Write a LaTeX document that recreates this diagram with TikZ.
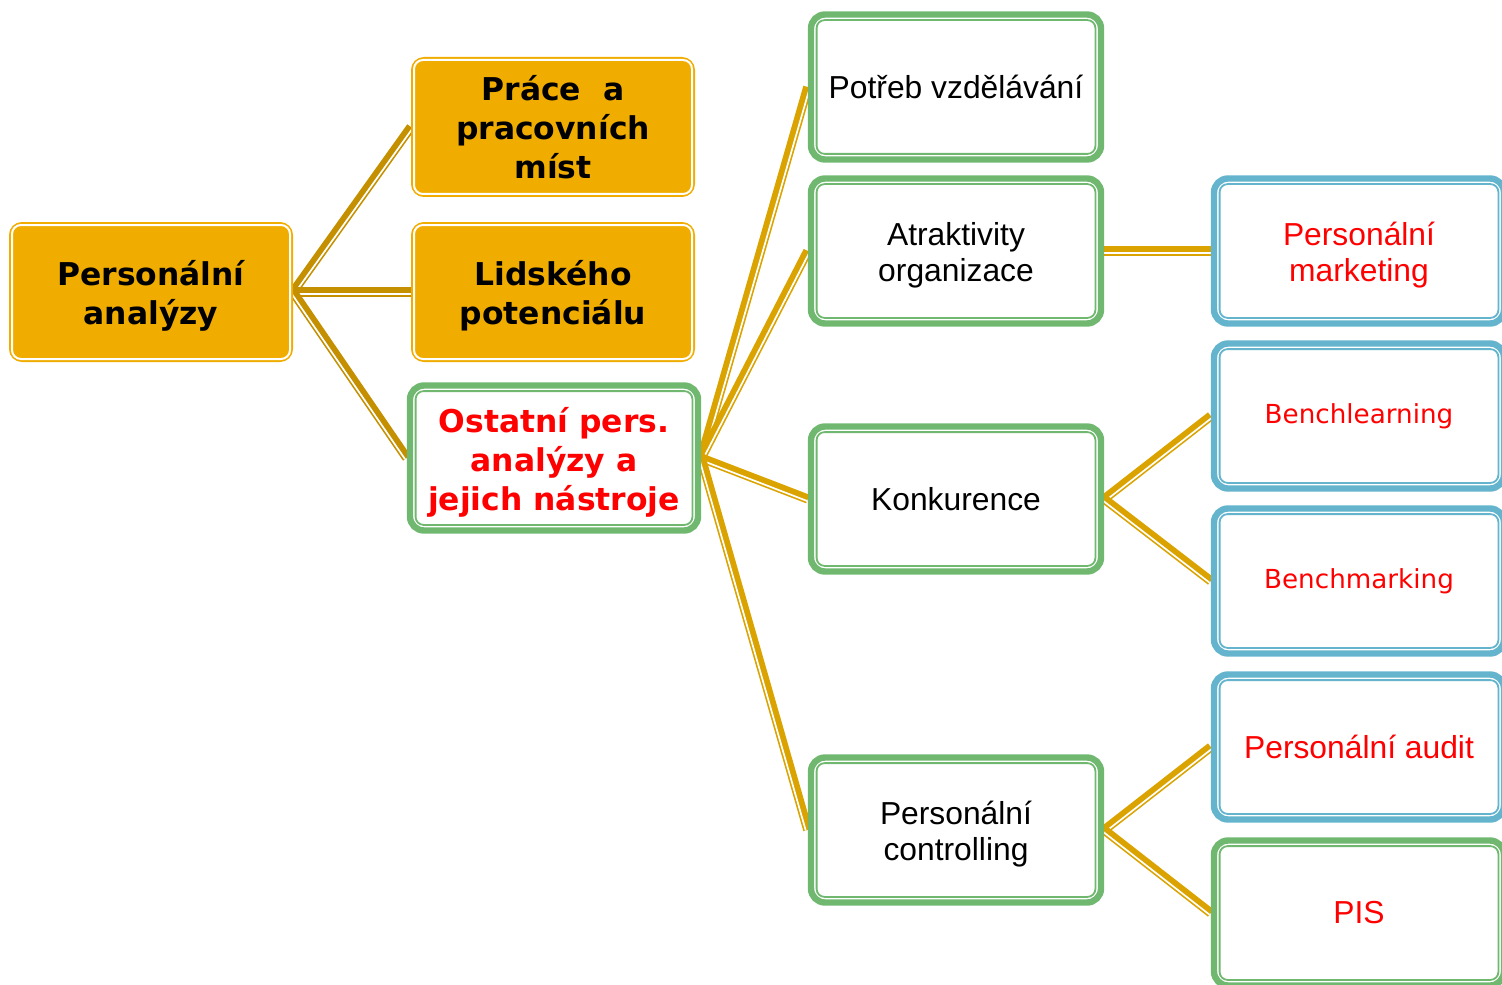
\documentclass[tikz,border=0pt]{standalone}
\usepackage{fontspec}
\setmainfont{Liberation Sans}
\newfontfamily\verd{DejaVu Sans}
\usetikzlibrary{calc,backgrounds}

\definecolor{boxorange}{RGB}{240,173,0}
\definecolor{boxgreen}{RGB}{112,184,112}
\definecolor{boxblue}{RGB}{99,180,204}
\definecolor{linkdark}{RGB}{196,144,0}
\definecolor{linkgold}{RGB}{218,163,0}
\definecolor{txtred}{RGB}{255,0,0}

% thick-thin connector: from #1 to #2 in colour #3
\newcommand\linkab[3]{
\draw[#3, line width=4.6pt] (#1) -- (#2);
\draw[white, line width=0.85pt] ($(#1)!1.05pt!-90:(#2)$) -- ($(#2)!1.05pt!90:(#1)$);
}

\begin{document}
\begin{tikzpicture}[x=0.5pt,y=-0.5pt,
  orangebox/.style={draw=boxorange, fill=boxorange, line width=1pt, rounded corners=6pt,
    minimum width=141pt, minimum height=69pt, align=center, inner sep=0pt,
    font=\verd\bfseries\fontsize{15.7}{19.5}\selectfont},
  greenbox/.style={draw=boxgreen, fill=white, line width=3.2pt, rounded corners=7pt,
    minimum width=145pt, minimum height=72.5pt, align=center, inner sep=0pt,
    font=\fontsize{15.9}{18}\selectfont},
  bluebox/.style={greenbox, draw=boxblue, text=txtred},
  lowtext/.style={execute at begin node={\rule{0pt}{#1}}}]
\useasboundingbox (0,0) rectangle (1502,984);
\clip (0,0) rectangle (1502,984);

\node[orangebox, lowtext=36pt] (pa) at (151,292) {Personální\\analýzy};
\node[orangebox] (prace) at (553,127) {Práce~~a\\pracovních\\míst};
\node[orangebox, lowtext=36pt] (lid) at (553,292) {Lidského\\potenciálu};
\node[greenbox, lowtext=55.5pt, text=txtred, minimum width=144pt, font=\verd\bfseries\fontsize{15.7}{19.5}\selectfont] (ost) at (554,458) {Ostatní pers.\\analýzy a\\jejich nástroje};

\node[greenbox] (pot) at (956,87) {Potřeb vzdělávání};
\node[greenbox, lowtext=34pt] (atr) at (956,251) {Atraktivity\\organizace};
\node[greenbox] (kon) at (956,499) {Konkurence};
\node[greenbox, lowtext=34pt] (con) at (956,830) {Personální\\controlling};

\node[bluebox, lowtext=34pt] (mark) at (1359,251) {Personální\\marketing};
\node[bluebox, font=\verd\fontsize{13.1}{16}\selectfont] (bl) at (1359,416) {Benchlearning};
\node[bluebox, font=\verd\fontsize{13.1}{16}\selectfont] (bm) at (1359,581) {Benchmarking};
\node[bluebox] (aud) at (1359,747) {Personální audit};
\node[greenbox, text=txtred] (pis) at (1359,913) {PIS};

% inner thin lines
\foreach \n in {pa,prace,lid}
{
	\draw[white, line width=1pt, rounded corners=4.5pt] ([shift={(1.5pt,1.5pt)}]\n.south west) rectangle ([shift={(-1.5pt,-1.5pt)}]\n.north east);
}
\foreach \n in {ost,pot,atr,kon,con,pis}
{
	\draw[boxgreen, line width=0.9pt, rounded corners=4pt] ([shift={(4.4pt,4.4pt)}]\n.south west) rectangle ([shift={(-4.4pt,-4.4pt)}]\n.north east);
}
\foreach \n in {mark,bl,bm,aud}
{
	\draw[boxblue, line width=0.9pt, rounded corners=4pt] ([shift={(4.4pt,4.4pt)}]\n.south west) rectangle ([shift={(-4.4pt,-4.4pt)}]\n.north east);
}

\begin{scope}[on background layer]
\linkab{pa.east}{prace.west}{linkdark}
\linkab{pa.east}{lid.west}{linkdark}
\linkab{pa.east}{ost.west}{linkdark}
\foreach \n in {pot,atr,kon,con}
{
	\linkab{ost.east}{\n.west}{linkgold}
}
\linkab{atr.east}{mark.west}{linkgold}
\linkab{kon.east}{bl.west}{linkgold}
\linkab{kon.east}{bm.west}{linkgold}
\linkab{con.east}{aud.west}{linkgold}
\linkab{con.east}{pis.west}{linkgold}
\end{scope}

\end{tikzpicture}
\end{document}
